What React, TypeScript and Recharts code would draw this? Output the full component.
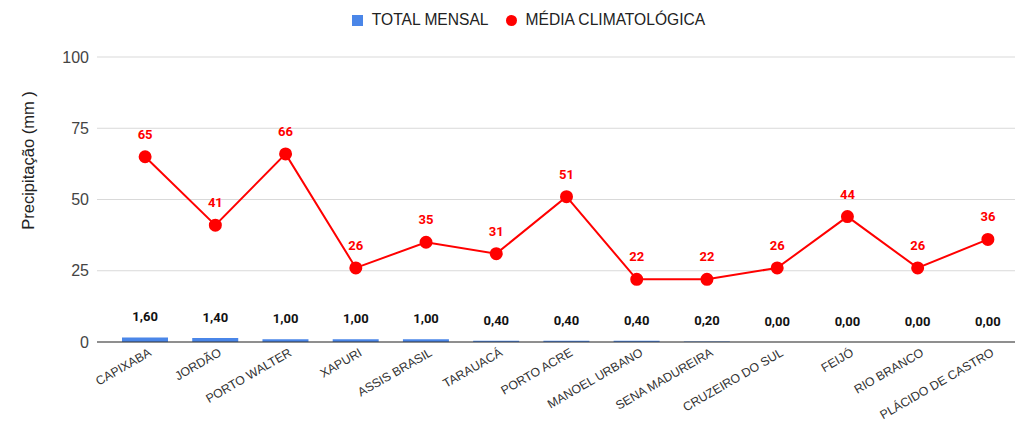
import React from "react";
import { ComposedChart, Bar, Line, XAxis, YAxis, CartesianGrid, LabelList } from "recharts";

const categories = [
  "CAPIXABA", "JORDÃO", "PORTO WALTER", "XAPURI", "ASSIS BRASIL", "TARAUACÁ", "PORTO ACRE",
  "MANOEL URBANO", "SENA MADUREIRA", "CRUZEIRO DO SUL", "FEIJÓ", "RIO BRANCO", "PLÁCIDO DE CASTRO",
];
const totalMensal = [1.6, 1.4, 1.0, 1.0, 1.0, 0.4, 0.4, 0.4, 0.2, 0, 0, 0, 0];
const mediaClimatologica = [65, 41, 66, 26, 35, 31, 51, 22, 22, 26, 44, 26, 36];
const yTicks = [0, 25, 50, 75, 100];

const data = categories.map((c, i) => ({ name: c, total: totalMensal[i], media: mediaClimatologica[i] }));

const FONT = "'Liberation Sans', Arial, sans-serif";
const BOLDFONT = "Roboto, 'Liberation Sans', Arial, sans-serif";

const XTick = (props: any) => {
  const { x, y, payload } = props;
  const ax = x + 7;
  const ay = y + 5;
  return (
    <text x={ax} y={ay} transform={`rotate(-30, ${ax}, ${ay})`} textAnchor="end" fontSize={12.3} fill="#333" fontFamily={FONT}>
      {payload.value}
    </text>
  );
};

const BarLabel = (props: any) => {
  const { x, y, value } = props;
  return (
    <text x={x} y={y - 16} textAnchor="middle" fontSize={13} fontWeight="bold" fill="#111" fontFamily={BOLDFONT}>
      {Number(value).toFixed(2).replace(".", ",")}
    </text>
  );
};

const LineLabel = (props: any) => {
  const { x, y, value } = props;
  return (
    <text x={x} y={y - 18} textAnchor="middle" fontSize={13} fontWeight="bold" fill="#ff0000" fontFamily={BOLDFONT}>
      {value}
    </text>
  );
};

const YLabel = (props: any) => {
  const vb = props.viewBox || {};
  const cx = (vb.x || 0) + 20;
  const cy = (vb.y || 0) + (vb.height || 0) / 2 - 39;
  return (
    <text x={cx} y={cy} transform={`rotate(-90, ${cx}, ${cy})`} textAnchor="middle" dominantBaseline="central" fontSize={16.5} fill="#222" fontFamily={FONT}>
      Precipitação (mm )
    </text>
  );
};

export default function App() {
  return (
    <div style={{ position: "relative", width: 1015, height: 416, fontFamily: FONT }}>
      <div style={{ position: "absolute", top: 3, left: 0, width: 1015, display: "flex", justifyContent: "center", alignItems: "center", fontSize: 15.6, color: "#222" }}>
        <div style={{ display: "flex", alignItems: "center", marginLeft: 26 }}>
          <span style={{ display: "inline-block", width: 11, height: 11, background: "#4a86e8", marginRight: 9 }} />
          <span>TOTAL MENSAL</span>
          <span style={{ display: "inline-block", width: 11, height: 11, borderRadius: "50%", background: "#ff0000", marginLeft: 17, marginRight: 9 }} />
          <span>MÉDIA CLIMATOLÓGICA</span>
        </div>
      </div>
      <ComposedChart width={1015} height={416} data={data} margin={{ top: 49, right: 0, left: 0, bottom: 0 }}>
        <CartesianGrid vertical={false} stroke="#d9d9d9" />
        <XAxis
          dataKey="name"
          interval={0}
          tick={<XTick />}
          tickLine={false}
          axisLine={{ stroke: "#333", strokeWidth: 1 }}
          height={82}
          padding={{ left: 13, right: 0 }}
        />
        <YAxis
          domain={[0, 100]}
          ticks={yTicks}
          width={89}
          axisLine={false}
          tickLine={false}
          tick={{ fontSize: 16, fill: "#444", fontFamily: FONT }}
          label={<YLabel />}
        />
        <Bar dataKey="total" fill="#4a86e8" barSize={46} isAnimationActive={false} />
        <Line dataKey="total" stroke="none" dot={false} activeDot={false} legendType="none" isAnimationActive={false}>
          <LabelList dataKey="total" content={<BarLabel />} />
        </Line>
        <Line dataKey="media" stroke="#ff0000" strokeWidth={2} dot={{ r: 5.5, fill: "#ff0000", stroke: "#ff0000" }} isAnimationActive={false}>
          <LabelList dataKey="media" content={<LineLabel />} />
        </Line>
      </ComposedChart>
    </div>
  );
}
